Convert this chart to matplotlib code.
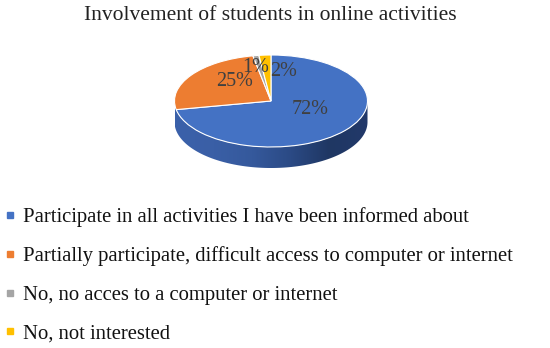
import matplotlib.pyplot as plt
from matplotlib.lines import Line2D
from matplotlib.patches import Polygon
from matplotlib.colors import LinearSegmentedColormap
import numpy as np

title = "Involvement of students in online activities"
labels = ["Participate in all activities I have been informed about",
          "Partially participate, difficult access to computer or internet",
          "No, no acces to a computer or internet",
          "No, not interested"]
values = [72, 25, 1, 2]
colors = ["#4472C4", "#ED7D31", "#A5A5A5", "#FFC000"]

plt.rcParams['font.family'] = ['Liberation Serif', 'DejaVu Serif']

W, H = 550, 348
fig = plt.figure(figsize=(W / 100, H / 100), dpi=100)

# pie geometry in pixels: centre, half axes, rim depth
cx, cy, a, b, depth = 271, 101, 96.5, 46, 21
left, right, top, bottom = 150, 392, 48, 178
ax = fig.add_axes([left / W, 1 - bottom / H, (right - left) / W, (bottom - top) / H])
wedges, _ = ax.pie(values, colors=colors, startangle=90, counterclock=False,
                   wedgeprops=dict(edgecolor="white", linewidth=0.8), radius=1.0)
ax.set_aspect('auto')
ax.axis('off')

# side rim: front half of the pie (only the blue slice shows there)
h = depth / b
th = np.linspace(np.pi, 2 * np.pi, 200)
rim = np.vstack([np.c_[np.cos(th), np.sin(th)],
                 np.c_[np.cos(th[::-1]), np.sin(th[::-1]) - h]])
poly = Polygon(rim, closed=True, fc="none", ec="none")
ax.add_patch(poly)
side_cmap = LinearSegmentedColormap.from_list(
    "side", ["#3b61aa", "#3a5fa6", "#35599c", "#2b4a85", "#1f3763", "#22396a"])
grad = np.linspace(0, 1, 256).reshape(1, -1)
im = ax.imshow(grad, cmap=side_cmap, extent=[-1, 1, -1 - h, 0.05],
               aspect='auto', zorder=0)
im.set_clip_path(poly)
ax.set_xlim((left - cx) / a, (right - cx) / a)
ax.set_ylim((cy - bottom) / b, (cy - top) / b)

# percentage labels
lab_pos = [(310, 110), (235, 82), (256, 67), (284, 72)]
for v, (px, py) in zip(values, lab_pos):
    ax.text((px - cx) / a, (cy - py) / b, f"{v}%", ha="center", va="center",
            fontsize=14.5, color="#404040")

fig.text(270 / W, 1 - 15 / H, title, ha="center", va="center",
         fontsize=15.5, color="#222222")

handles = [Line2D([], [], marker='s', ls='', color=c, markersize=5) for c in colors]
fig.legend(handles, labels, loc="upper left", bbox_to_anchor=(0.003, 1 - 203 / H),
           frameon=False, fontsize=14.9, handlelength=0.45, handletextpad=0.4,
           labelspacing=0.93, borderaxespad=0, borderpad=0.2, labelcolor="#111111")

fig.savefig("out.png", dpi=100)
